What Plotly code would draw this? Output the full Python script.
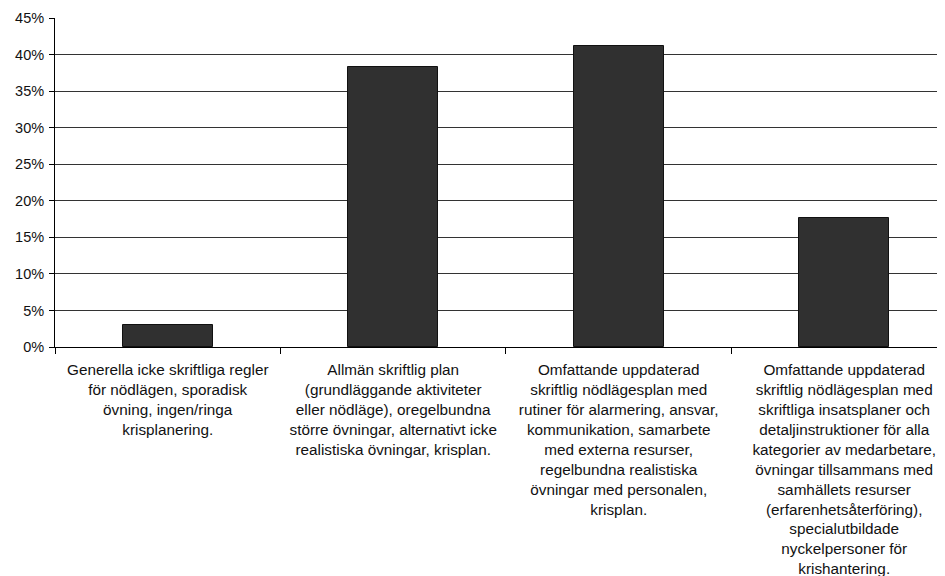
import plotly.graph_objects as go

categories = [
    "Generella icke skriftliga regler<br>för nödlägen, sporadisk<br>övning, ingen/ringa<br>krisplanering.",
    "Allmän skriftlig plan<br>(grundläggande aktiviteter<br>eller nödläge), oregelbundna<br>större övningar, alternativt icke<br>realistiska övningar, krisplan.",
    "Omfattande uppdaterad<br>skriftlig nödlägesplan med<br>rutiner för alarmering, ansvar,<br>kommunikation, samarbete<br>med externa resurser,<br>regelbundna realistiska<br>övningar med personalen,<br>krisplan.",
    "Omfattande uppdaterad<br>skriftlig nödlägesplan med<br>skriftliga insatsplaner och<br>detaljinstruktioner för alla<br>kategorier av medarbetare,<br>övningar tillsammans med<br>samhällets resurser<br>(erfarenhetsåterföring),<br>specialutbildade<br>nyckelpersoner för<br>krishantering.",
]
values = [3.0, 38.3, 41.2, 17.7]
y_ticks = [0, 5, 10, 15, 20, 25, 30, 35, 40, 45]

font_family = "Liberation Sans, Arial, Helvetica, sans-serif"

fig = go.Figure(
    go.Bar(
        x=list(range(len(categories))),
        y=values,
        width=0.4,
        marker=dict(color="#303030", line=dict(color="#111111", width=1)),
        hoverinfo="skip",
    )
)

# page body has an 8px default margin, so the figure is 8px smaller
fig.update_layout(
    width=937,
    height=568,
    margin=dict(l=47, r=0, t=10, b=229, autoexpand=False),
    paper_bgcolor="white",
    plot_bgcolor="white",
    showlegend=False,
    font=dict(family=font_family, size=15.3, color="#111111"),
    bargap=0,
)

fig.update_xaxes(
    range=[-0.5, 3.447],
    tickmode="array",
    tickvals=list(range(len(categories))),
    ticktext=categories,
    tickangle=0,
    showgrid=False,
    showline=True,
    linecolor="black",
    linewidth=1,
    ticks="",
    tickfont=dict(size=15.3),
    ticklabelstandoff=9,
    zeroline=False,
    fixedrange=True,
    automargin=False,
    minor=dict(tickmode="array", tickvals=[-0.5, 0.5, 1.5, 2.5, 3.5], ticks="outside",
               ticklen=6, tickcolor="black", showgrid=False),
)

fig.update_yaxes(
    range=[0, 45],
    tickmode="array",
    tickvals=y_ticks,
    ticktext=[f"{v}%" for v in y_ticks],
    showgrid=True,
    gridcolor="#333333",
    gridwidth=1,
    showline=True,
    linecolor="black",
    linewidth=1,
    ticks="outside",
    ticklen=5,
    tickcolor="black",
    zeroline=False,
    tickfont=dict(size=14.5),
    ticklabelstandoff=2,
    fixedrange=True,
    automargin=False,
)

fig.write_html("out.html")
